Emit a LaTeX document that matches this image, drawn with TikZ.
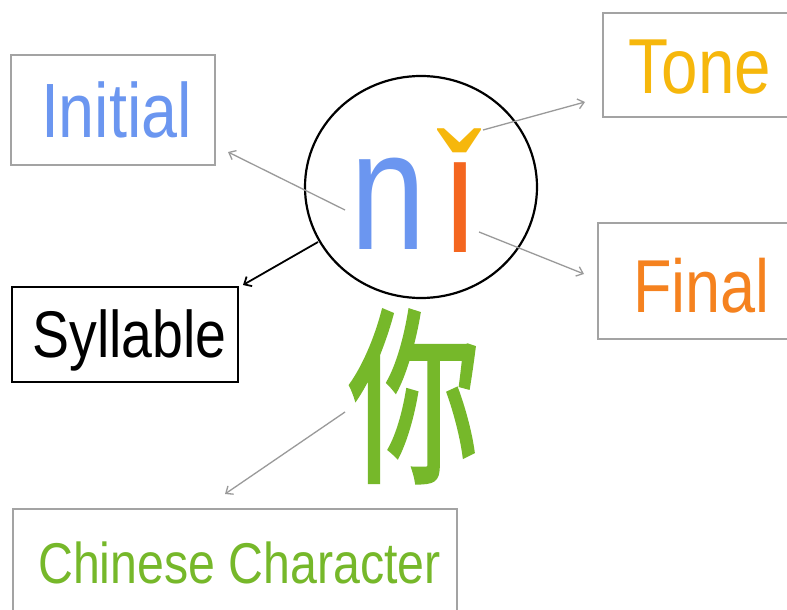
\documentclass[tikz,border=0pt]{standalone}
\usepackage{graphicx}
\usepackage{fontspec}
\setmainfont[FakeStretch=0.84]{Liberation Sans}
\newfontfamily\pyfont[FakeStretch=0.8]{Liberation Sans}
\newfontfamily\cjkfont[FakeBold=2]{Noto Sans CJK SC}
\usetikzlibrary{arrows.meta,shapes.geometric}
\definecolor{boxgray}{HTML}{A3A3A3}
\definecolor{arrgray}{HTML}{9A9A9A}
\definecolor{cblue}{HTML}{6B96F0}
\definecolor{corange}{HTML}{F4661F}
\definecolor{forange}{HTML}{F5821F}
\definecolor{cyellow}{HTML}{F6B70C}
\definecolor{cgreen}{HTML}{76B82A}
\begin{document}
\begin{tikzpicture}[x=1pt,y=-1pt,
  graybox/.style={draw=boxgray, line width=1.8pt, rectangle, inner sep=0pt},
  blackbox/.style={draw=black, line width=2pt, rectangle, inner sep=0pt},
  lbl/.style={anchor=base, inner sep=0pt},
  garrow/.style={draw=arrgray, line width=1.3pt, -{Straight Barb[length=6pt,width=10pt,line width=1.3pt]}},
  barrow/.style={draw=black, line width=1.8pt, -{Straight Barb[length=6pt,width=11pt,line width=1.8pt]}}]
\clip (0,0) rectangle (787,610);
\fill[white] (0,0) rectangle (787,610);
% boxes
\node[graybox, minimum width=204pt, minimum height=110pt] (initialbox) at (113,110) {};
\node[graybox, minimum width=197pt, minimum height=104pt] (tonebox) at (701.5,65) {};
\node[graybox, minimum width=202pt, minimum height=116pt] (finalbox) at (699,281) {};
\node[blackbox, minimum width=226pt, minimum height=95pt] (sylbox) at (125,334.5) {};
\node[graybox, minimum width=444pt, minimum height=121pt] (charbox) at (235,569.5) {};
% labels
\node[lbl, text=cblue, font=\fontsize{77}{77}\selectfont] (initial) at (116.5,137) {Initial};
\node[lbl, text=cyellow, font=\fontsize{78}{78}\selectfont] (tone) at (700,93) {Tone};
\node[lbl, text=forange, font=\fontsize{75}{75}\selectfont] (final) at (701.5,312) {Final};
\node[lbl, text=black, font=\fontsize{66}{66}\selectfont] (syllable) at (129.5,357) {Syllable};
\node[lbl, text=cgreen, font=\fontsize{57.5}{57.5}\selectfont] (chinese) at (239.5,583) {Chinese Character};
% circle with pinyin
\node[draw=black, line width=2.2pt, ellipse, minimum width=232pt, minimum height=222pt, inner sep=0pt] (syl) at (421,187) {};
\node[lbl, text=cblue, font=\pyfont\fontsize{170}{170}\selectfont] (n) at (388.5,249) {n};
\node[lbl, font=\pyfont\fontsize{170}{170}\selectfont] (i) at (460,252) {\ooalign{\hfil\textcolor{cyellow}{ˇ}\hfil\cr\hfil\textcolor{corange}{ı}\hfil}};
% character
\node[inner sep=0pt, text=cgreen] (ni) at (414,396.5) {\scalebox{0.7}[1]{\cjkfont\fontsize{188}{188}\selectfont 你}};
% connectors
\coordinate (a1s) at (345,210); \coordinate (a1e) at (228,152);
\coordinate (a2s) at (483,130); \coordinate (a2e) at (585,102);
\coordinate (a3s) at (479,232); \coordinate (a3e) at (584,274);
\coordinate (a4s) at (318,242); \coordinate (a4e) at (243,285);
\coordinate (a5s) at (345,412); \coordinate (a5e) at (225,494);
\draw[garrow] (a1s) -- (a1e);
\draw[garrow] (a2s) -- (a2e);
\draw[garrow] (a3s) -- (a3e);
\draw[barrow] (a4s) -- (a4e);
\draw[garrow] (a5s) -- (a5e);
\end{tikzpicture}
\end{document}
